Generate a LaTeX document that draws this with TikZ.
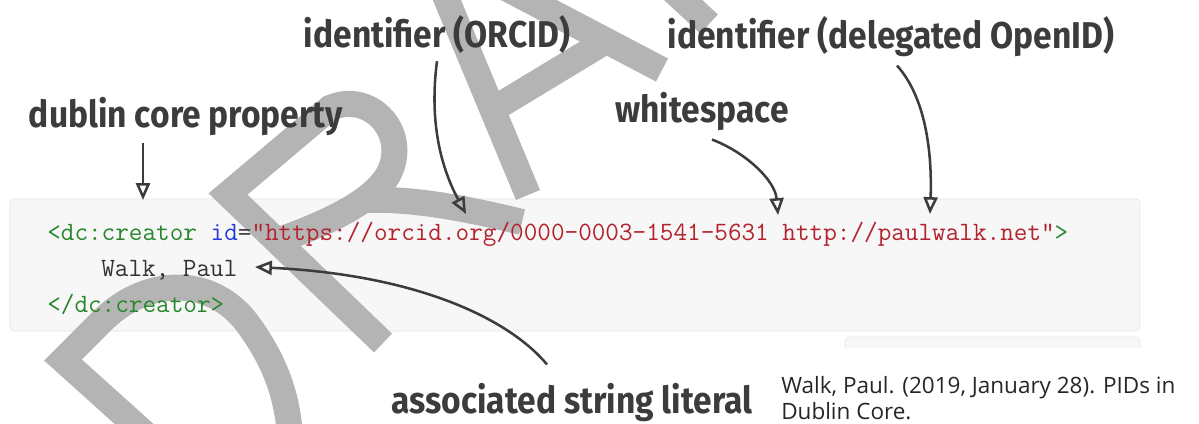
\documentclass[tikz,border=0pt]{standalone}
\usepackage{fontspec}
\setmainfont{Open Sans}
\newfontfamily\handfont[FakeStretch=0.9]{Fira Sans}
\usetikzlibrary{arrows.meta,calc}

\definecolor{inkgrey}{RGB}{60,60,60}
\definecolor{boxfill}{RGB}{247,247,247}
\definecolor{boxline}{RGB}{228,228,228}
\definecolor{taggreen}{RGB}{40,135,45}
\definecolor{attrblue}{RGB}{35,60,215}
\definecolor{strred}{RGB}{180,35,45}
\definecolor{draftgrey}{RGB}{180,180,180}

\begin{document}
\begin{tikzpicture}[
    x=0.025cm, y=0.025cm,
    >={Triangle[open,length=12pt,width=10pt]},
    note/.style={
        inner sep=0pt,
        anchor=base,
        text=inkgrey,
        font=\handfont\bfseries\fontsize{26.5}{31}\selectfont
    },
    code/.style={
        inner sep=0pt,
        anchor=base west,
        font=\ttfamily\fontsize{18.8}{22}\selectfont
    },
    cite/.style={
        inner sep=0pt,
        anchor=base west,
        align=left,
        text=black!85,
        font=\fontsize{16}{17.8}\selectfont
    },
    pointer/.style={->, line width=1.8pt, draw=inkgrey},
    draft/.style={draw=draftgrey, line width=18.5pt, line join=miter}
]
    \useasboundingbox (0,0) rectangle (1199,-423);

    % code listing
    \draw[boxline, fill=boxfill, rounded corners=3pt]
        (10,-199) rectangle (1140,-331);
    \draw[boxline, fill=boxfill, rounded corners=3pt]
        (845,-348) -- (845,-337) -- (1140,-337) -- (1140,-348);

    % watermark
    \begin{scope}[draft]
        \clip (0,0) rectangle (1199,-423);
        \draw (290,-435) .. controls (287,-395) and (275,-362) .. (250,-327)
            .. controls (215,-276) and (150,-276) .. (105,-318)
            -- (63,-360) -- (263,-540);
        \draw (383,-343) -- (228,-194) -- (330,-108)
            .. controls (372,-90) and (410,-135) .. (388,-175)
            .. controls (370,-205) and (320,-225) .. (280,-240);
        \draw (365,-200) .. controls (420,-198) and (480,-212) .. (522,-222);
        \draw (528,-195) -- (424,55) -- (662,-70);
        \draw (492,-110) -- (606,-41);
        \draw (709,-24) -- (640,40);
    \end{scope}

    \node[code] (open) at (47,-240)
        {\textcolor{taggreen}{<dc:creator} \textcolor{attrblue}{id}\textcolor{inkgrey}{=}\textcolor{strred}{"https://orcid.org/0000-0003-1541-5631 http://paulwalk.net"}\textcolor{taggreen}{>}};
    \node[code, text=black!80] (name) at (101,-276) {Walk, Paul};
    \node[code, text=taggreen] (close) at (47,-312) {</dc:creator>};

    % notes
    \node[note] (dcp) at (186,-127) {dublin core property};
    \node[note] (orcid) at (437,-47) {identifier (ORCID)};
    \node[note] (oid) at (891,-48) {identifier (delegated OpenID)};
    \node[note] (wsp) at (702,-122) {whitespace};
    \node[note] (lit) at (572,-413) {associated string literal};

    \node[cite] (ref) at (781,-419)
        {Walk, Paul. (2019, January 28). PIDs in\\Dublin Core.};

    \coordinate (dctip) at (143,-200);
    \coordinate (orcidtip) at (466,-214);
    \coordinate (wsptip) at (778,-215);
    \coordinate (oidtip) at (930,-214);
    \coordinate (littip) at (255,-267);

    \draw[pointer, shorten <=5pt] (dcp.south -| dctip) -- (dctip);
    \draw[pointer] ($(orcid.south)+(0,-8)$)
        .. controls (428,-130) and (445,-175) .. (orcidtip);
    \draw[pointer] ($(wsp.south)+(10,-9)$)
        .. controls (745,-152) and (775,-180) .. (wsptip);
    \draw[pointer] ($(oid.south)+(6,-9)$)
        .. controls (928,-100) and (932,-160) .. (oidtip);
    \draw[pointer] ($(lit.north)+(-25,18)$)
        .. controls (510,-320) and (420,-275) .. (littip);
\end{tikzpicture}
\end{document}
